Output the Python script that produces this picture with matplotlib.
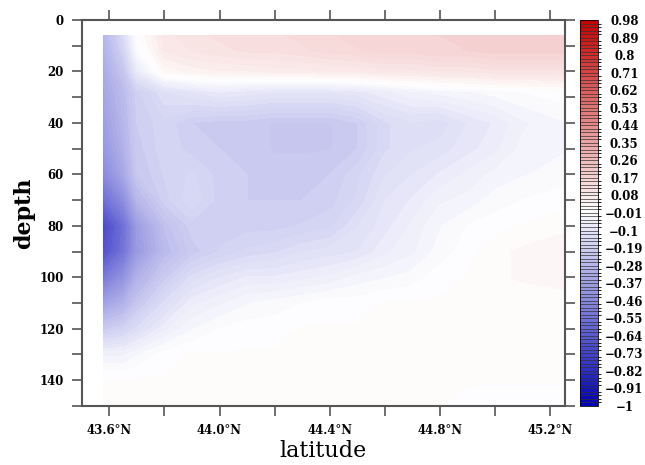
import numpy as np
import matplotlib
matplotlib.use("Agg")
import matplotlib.pyplot as plt
from matplotlib.colors import LinearSegmentedColormap, BoundaryNorm

# grille (latitude en degres N, profondeur en m)
lats = [43.58, 43.65, 43.7, 43.8, 43.9, 44.0, 44.1, 44.2, 44.3,
        44.4, 44.5, 44.6, 44.7, 44.8, 44.9, 45.0, 45.1, 45.25]
depths = [6, 12, 20, 28, 40, 50, 60, 70, 80, 90, 100, 110, 120, 130, 140, 150]

# une ligne par profondeur
values = [
    [-0.28, -0.14, 0.00, 0.09, 0.11, 0.12, 0.13, 0.13, 0.14, 0.15, 0.16, 0.16, 0.17, 0.17, 0.18, 0.18, 0.18, 0.18],
    [-0.30, -0.17, -0.02, 0.08, 0.10, 0.11, 0.12, 0.12, 0.13, 0.14, 0.15, 0.16, 0.16, 0.17, 0.17, 0.18, 0.18, 0.18],
    [-0.32, -0.22, -0.08, 0.03, 0.05, 0.06, 0.06, 0.07, 0.07, 0.08, 0.08, 0.09, 0.09, 0.10, 0.10, 0.11, 0.11, 0.11],
    [-0.34, -0.26, -0.18, -0.12, -0.10, -0.08, -0.09, -0.10, -0.10, -0.10, -0.09, -0.07, -0.05, -0.04, -0.03, -0.02, -0.01, 0.00],
    [-0.37, -0.28, -0.19, -0.16, -0.19, -0.20, -0.20, -0.21, -0.21, -0.21, -0.19, -0.14, -0.12, -0.13, -0.10, -0.08, -0.05, -0.03],
    [-0.40, -0.30, -0.20, -0.16, -0.18, -0.19, -0.20, -0.21, -0.21, -0.21, -0.19, -0.14, -0.12, -0.11, -0.09, -0.07, -0.04, -0.03],
    [-0.45, -0.34, -0.21, -0.17, -0.15, -0.18, -0.19, -0.20, -0.20, -0.19, -0.16, -0.12, -0.10, -0.08, -0.06, -0.04, -0.03, -0.02],
    [-0.56, -0.44, -0.28, -0.18, -0.14, -0.18, -0.19, -0.19, -0.19, -0.18, -0.15, -0.10, -0.08, -0.05, -0.04, -0.02, -0.01, 0.00],
    [-0.70, -0.56, -0.38, -0.24, -0.18, -0.18, -0.18, -0.18, -0.17, -0.16, -0.12, -0.09, -0.06, -0.03, -0.01, 0.00, 0.01, 0.02],
    [-0.67, -0.54, -0.39, -0.26, -0.20, -0.17, -0.15, -0.14, -0.12, -0.11, -0.10, -0.07, -0.05, -0.02, 0.00, 0.02, 0.03, 0.04],
    [-0.52, -0.42, -0.30, -0.20, -0.13, -0.10, -0.08, -0.08, -0.07, -0.06, -0.04, -0.03, -0.02, 0.00, 0.01, 0.02, 0.03, 0.04],
    [-0.36, -0.30, -0.22, -0.13, -0.07, -0.05, -0.03, -0.02, -0.01, 0.00, 0.00, 0.01, 0.01, 0.01, 0.01, 0.01, 0.01, 0.01],
    [-0.20, -0.17, -0.13, -0.07, -0.03, -0.01, 0.00, 0.00, 0.01, 0.01, 0.01, 0.01, 0.01, 0.01, 0.01, 0.01, 0.01, 0.01],
    [-0.05, -0.05, -0.03, 0.00, 0.01, 0.01, 0.01, 0.01, 0.01, 0.01, 0.01, 0.01, 0.01, 0.01, 0.01, 0.01, 0.01, 0.01],
    [0.01, 0.01, 0.01, 0.01, 0.01, 0.01, 0.01, 0.01, 0.01, 0.01, 0.01, 0.01, 0.01, 0.01, 0.01, 0.01, 0.01, 0.01],
    [0.01, 0.01, 0.01, 0.01, 0.01, 0.01, 0.01, 0.01, 0.01, 0.01, 0.01, 0.01, 0.01, 0.01, 0.00, 0.00, 0.00, 0.00],
]

niveaux = np.round(np.arange(-1.0, 0.98 + 1e-6, 0.018), 3)
lat_ticks = [43.6, 43.8, 44.0, 44.2, 44.4, 44.6, 44.8, 45.0, 45.2]
depth_ticks = list(range(0, 151, 10))

# bleu -> blanc -> rouge
cmap = LinearSegmentedColormap.from_list("blwhre", [
    (0.0, (0.0, 0.0, 0.72)),
    (0.505, (1.0, 1.0, 1.0)),
    (1.0, (0.78, 0.0, 0.0)),
])
norm = BoundaryNorm(niveaux, cmap.N)

gris = "#555555"
fig = plt.figure(figsize=(6.45, 4.65), dpi=100)
ax = fig.add_axes([0.127, 0.127, 0.749, 0.830])
cax = fig.add_axes([0.899, 0.127, 0.028, 0.830])

X, Y = np.meshgrid(lats, depths)
cf = ax.contourf(X, Y, np.array(values), levels=niveaux, cmap=cmap, norm=norm)

ax.set_xlim(43.5, 45.255)
ax.set_ylim(150, 0)
ax.set_xticks(lat_ticks)
ax.set_xticklabels([f"{v:.1f}\u00b0N" if i % 2 == 0 else "" for i, v in enumerate(lat_ticks)])
ax.set_yticks(depth_ticks)
ax.set_yticklabels([str(v) if v % 20 == 0 and v < 150 else "" for v in depth_ticks])
ax.tick_params(direction="out", length=7, width=1.2, color=gris,
               top=True, right=True, pad=6)
for lab in ax.get_xticklabels() + ax.get_yticklabels():
    lab.set_fontfamily("DejaVu Serif")
    lab.set_fontweight("bold")
    lab.set_fontsize(8.5)
for sp in ax.spines.values():
    sp.set_color(gris)
    sp.set_linewidth(1.5)

ax.set_xlabel("latitude", fontsize=16, family="DejaVu Serif", labelpad=2)
ax.set_ylabel("depth", fontsize=16, family="DejaVu Serif", fontweight="bold", labelpad=3)

cb = fig.colorbar(cf, cax=cax, drawedges=True)
cb.dividers.set_linewidth(0.5)
cb.dividers.set_color("#333333")
cb.outline.set_linewidth(0.6)
cb.set_ticks(niveaux[::5])
cb.set_ticklabels([f"{v:g}".replace("-", "\u2212") for v in niveaux[::5]])
cax.tick_params(length=0, pad=19)
for lab in cax.get_yticklabels():
    lab.set_fontfamily("DejaVu Serif")
    lab.set_fontweight("bold")
    lab.set_fontsize(8.5)
    lab.set_horizontalalignment("center")

fig.savefig("out.png", dpi=100)
